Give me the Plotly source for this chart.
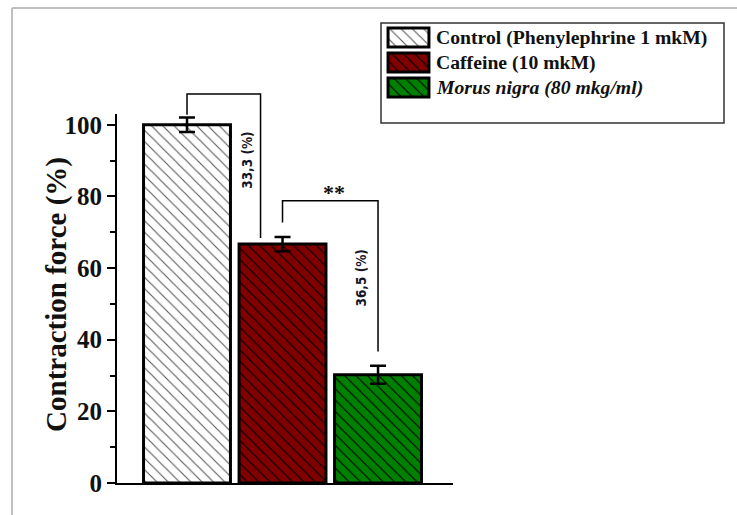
import plotly.graph_objects as go

# ---- data ----
groups = ["Control (Phenylephrine 1 mkM)", "Caffeine (10 mkM)", "Morus nigra (80 mkg/ml)"]
legend_labels = [
    "<b>Control (Phenylephrine 1 mkM)</b>",
    "<b>Caffeine (10 mkM)</b>",
    "<b><i>Morus nigra (80 mkg/ml)</i></b>",
]
positions = [1, 2, 3]
force = [100.0, 66.7, 30.2]          # contraction force, % of control
sem = [2.0, 2.0, 2.5]                # error bar half-length
fill_colors = ["#ffffff", "#800000", "#008000"]
hatch_colors = ["#5a5a5a", "#000000", "#000000"]
y_ticks = [0, 20, 40, 60, 80, 100]
y_minor = [10, 30, 50, 70, 90]
y_title = "Contraction force (%)"
decrease_labels = ["33,3 (%)", "36,5 (%)"]
significance = "**"

# ---- layout geometry (figure pixels) ----
W, H = 737, 515
XD = (117 / W, 453 / W)              # main x domain
YD = (32 / H, 401 / H)               # main y domain
XR = (0.267, 3.785)                  # x range
YR = (0, 103)                        # y range
FONT = "Liberation Serif"
INK = "#111111"


def px(v):
    return XD[0] + (v - XR[0]) / (XR[1] - XR[0]) * (XD[1] - XD[0])


def py(v):
    return YD[0] + (v - YR[0]) / (YR[1] - YR[0]) * (YD[1] - YD[0])


def marker_for(i):
    return dict(
        color=fill_colors[i],
        line=dict(color="black", width=3),
        pattern=dict(shape="\\", fgcolor=hatch_colors[i], bgcolor=fill_colors[i],
                     size=8, solidity=0.14, fillmode="replace"),
    )


fig = go.Figure()

for i, name in enumerate(groups):
    fig.add_trace(go.Bar(
        x=[positions[i]], y=[force[i]], width=0.91, name=name, marker=marker_for(i),
        error_y=dict(type="data", array=[sem[i]], color="black", thickness=2.5, width=8),
        showlegend=False, hoverinfo="skip",
    ))
    # legend key: small hatched box in its own mini axes
    fig.add_trace(go.Bar(
        y=[positions[i]], x=[1], orientation="h", width=0.76, name=name,
        marker=marker_for(i), xaxis="x2", yaxis="y2",
        showlegend=False, hoverinfo="skip",
    ))

axis_font = dict(family=FONT, size=25, color=INK, weight="bold")

fig.update_layout(
    width=W, height=H,
    margin=dict(l=0, r=0, t=0, b=0),
    paper_bgcolor="white", plot_bgcolor="white",
    barmode="overlay",
    xaxis=dict(
        domain=list(XD), range=list(XR), showline=True, linecolor="black", linewidth=2,
        showticklabels=False, ticks="", showgrid=False, zeroline=False, automargin=False,
    ),
    yaxis=dict(
        domain=list(YD), range=list(YR), showline=True, linecolor="black", linewidth=2,
        tickvals=y_ticks, ticks="outside", ticklen=8, tickwidth=2, tickcolor="black",
        tickfont=axis_font, showgrid=False, zeroline=False, automargin=False,
        minor=dict(tickvals=y_minor, ticks="outside", ticklen=5, tickwidth=2, tickcolor="black"),
    ),
    xaxis2=dict(domain=[386 / W, 431 / W], range=[-0.05, 1.05], visible=False, anchor="y2"),
    yaxis2=dict(domain=[(H - 100) / H, (H - 25) / H], range=[3.5, 0.5], visible=False, anchor="x2"),
)

shapes = []
# thin grey frame at the top and left edges
shapes.append(dict(type="line", xref="paper", yref="paper", x0=12 / W, x1=1, y0=(H - 8) / H, y1=(H - 8) / H,
                   line=dict(color="#c0c0c0", width=2)))
shapes.append(dict(type="line", xref="paper", yref="paper", x0=12 / W, x1=12 / W, y0=0, y1=(H - 8) / H,
                   line=dict(color="#c0c0c0", width=2)))
# legend box
shapes.append(dict(type="rect", xref="paper", yref="paper", x0=381 / W, x1=724 / W,
                   y0=(H - 123) / H, y1=(H - 23) / H, line=dict(color="#333333", width=1.5)))


def bracket(x_left, y_left, x_right, y_right, y_top):
    path = (f"M {px(x_left)},{py(y_left)} L {px(x_left)},{py(y_top)} "
            f"L {px(x_right)},{py(y_top)} L {px(x_right)},{py(y_right)}")
    return dict(type="path", xref="paper", yref="paper", path=path, line=dict(color="black", width=1.5))


# control vs caffeine
shapes.append(bracket(positions[0], force[0] + sem[0] + 0.8, positions[1] - 0.23, force[1] + sem[1] - 0.3, 108.6))
# caffeine vs Morus nigra
shapes.append(bracket(positions[1], force[1] + sem[1] + 4.0, positions[2], force[2] + sem[2] + 4.0, 78.8))

note_font = dict(family="DejaVu Sans Condensed, DejaVu Sans", size=13.5, color="#141428", weight="bold")
annotations = [
    # y-axis title
    dict(x=57 / W, y=py(52.5), xref="paper", yref="paper", text=y_title, textangle=-90,
         xanchor="center", yanchor="middle",
         showarrow=False, font=dict(family=FONT, size=29, color=INK, weight="bold")),
    dict(x=px(1.62), y=py(90.0), xref="paper", yref="paper", text=decrease_labels[0], textangle=-90,
         xanchor="center", yanchor="middle", showarrow=False, font=note_font),
    dict(x=px(2.82), y=py(57.3), xref="paper", yref="paper", text=decrease_labels[1], textangle=-90,
         xanchor="center", yanchor="middle", showarrow=False, font=note_font),
    dict(x=px(2.54), y=py(77.0), xref="paper", yref="paper", text=significance, yanchor="bottom",
         xanchor="center", showarrow=False, font=dict(family=FONT, size=22, color=INK, weight="bold")),
]

# legend texts next to the keys
row_step = (75 / 3) / H
for i, lab in enumerate(legend_labels):
    annotations.append(dict(
        x=434 / W, y=(H - 25) / H - row_step * (i + 0.5), xref="paper", yref="paper",
        text=lab, xanchor="left", yanchor="middle", showarrow=False,
        font=dict(family=FONT, size=19.7, color=INK),
    ))

fig.update_layout(shapes=shapes, annotations=annotations)

fig.write_html("out.html")
